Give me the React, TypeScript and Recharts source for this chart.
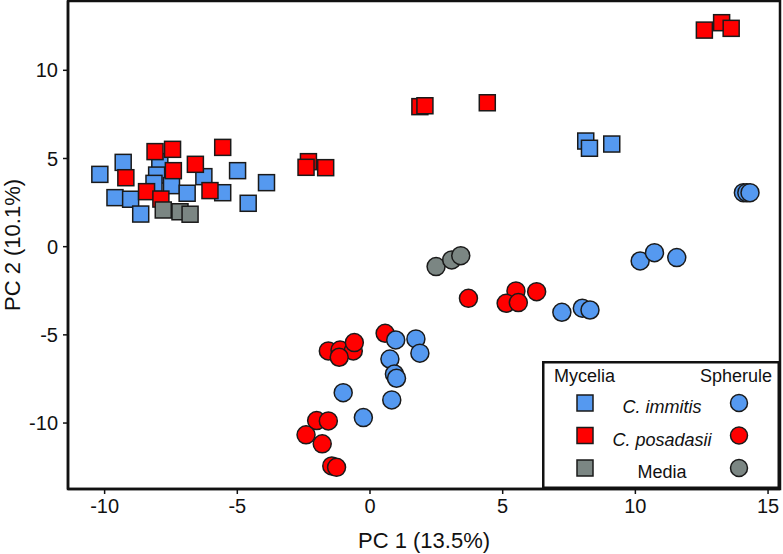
import React from "react";
import { ScatterChart, Scatter, XAxis, YAxis, Legend, ReferenceArea } from "recharts";

// PCA scores: [PC1, PC2]
const myceliaImmitis: [number, number][] = [
  [-10.18, 4.1], [-9.3, 4.78], [-9.61, 2.78], [-9.02, 2.69], [-8.64, 1.85],
  [-7.92, 4.82], [-8.04, 4.06], [-8.14, 3.59], [-7.48, 3.46], [-6.89, 3.03],
  [-6.26, 3.97], [-5.55, 3.06], [-4.99, 4.31], [-4.59, 2.46], [-3.9, 3.63],
  [8.13, 5.99], [8.27, 5.58], [9.11, 5.82],
];
const myceliaPosadasii: [number, number][] = [
  [-8.1, 5.39], [-7.44, 5.52], [-5.55, 5.63], [-9.2, 3.91], [-7.41, 4.31],
  [-6.58, 4.67], [-8.42, 3.12], [-6.03, 3.18], [-7.88, 2.7], [-2.32, 4.82],
  [-2.41, 4.5], [-1.67, 4.48], [1.88, 7.94], [2.07, 7.99], [4.42, 8.16],
  [12.6, 12.28], [13.25, 12.7], [13.61, 12.38],
];
const myceliaMedia: [number, number][] = [
  [-7.79, 2.08], [-7.16, 1.98], [-6.78, 1.84],
];
const spheruleImmitis: [number, number][] = [
  [14.07, 3.06], [14.2, 3.06], [14.32, 3.06], [10.18, -0.81], [10.72, -0.34],
  [11.56, -0.62], [7.23, -3.72], [8.0, -3.49], [8.29, -3.59], [0.97, -5.29],
  [1.73, -5.23], [1.88, -6.04], [0.75, -6.37], [0.92, -7.22], [1.0, -7.46],
  [0.82, -8.69], [-1.01, -8.28], [-0.25, -9.69],
];
const spherulePosadasii: [number, number][] = [
  [-1.57, -5.91], [-1.13, -5.86], [-0.63, -5.91], [-0.59, -5.44], [-1.16, -6.27],
  [0.57, -4.91], [-2.01, -9.86], [-1.57, -9.88], [-2.41, -10.67], [-1.8, -11.18],
  [-1.44, -12.43], [-1.26, -12.51], [3.71, -2.93], [5.5, -2.51], [5.13, -3.21],
  [5.59, -3.17], [6.28, -2.55],
];
const spheruleMedia: [number, number][] = [
  [2.49, -1.13], [3.08, -0.75], [3.42, -0.51],
];

const xTicks = [-10, -5, 0, 5, 10, 15];
const yTicks = [-10, -5, 0, 5, 10];
const xDomain = [-11.38, 15.45];
const yDomain = [-13.74, 13.93];

const BLUE = "#5599f0";
const RED = "#ff0000";
const GRAY = "#7b8683";
const EDGE = "#1a1a1a";
const FONT = '"Liberation Sans", Arial, sans-serif';

const toPoints = (arr: [number, number][]) => arr.map(([x, y]) => ({ x, y }));

const Square = (fill: string) => (props: any) => {
  const { cx, cy } = props;
  return <rect x={cx - 8} y={cy - 8} width={16} height={16} fill={fill} stroke={EDGE} strokeWidth={1.5} />;
};
const Dot = (fill: string) => (props: any) => {
  const { cx, cy } = props;
  return <circle cx={cx} cy={cy} r={9} fill={fill} stroke={EDGE} strokeWidth={1.5} />;
};

const legendRows = [
  { label: "C. immitis", color: BLUE, italic: true },
  { label: "C. posadasii", color: RED, italic: true },
  { label: "Media", color: GRAY, italic: false },
];

function PcaLegend() {
  return (
    <svg width={238} height={128} style={{ display: "block" }}>
      <rect x={1.25} y={1.25} width={235.5} height={125.5} fill="#fff" stroke="#111" strokeWidth={2.5} />
      <text x={12} y={21} fontSize={18} fontFamily={FONT} fill="#111">Mycelia</text>
      <text x={230} y={21} fontSize={18} fontFamily={FONT} fill="#111" textAnchor="end">Spherule</text>
      {legendRows.map((r, i) => {
        const cy = 42 + i * 32.5;
        return (
          <g key={r.label}>
            <rect x={35} y={cy - 8} width={16} height={16} fill={r.color} stroke={EDGE} strokeWidth={1.5} />
            <text x={120} y={cy + 10} fontSize={18} fontFamily={FONT} fill="#111" textAnchor="middle" fontStyle={r.italic ? "italic" : "normal"}>
              {r.label}
            </text>
            <circle cx={197} cy={cy} r={8.5} fill={r.color} stroke={EDGE} strokeWidth={1.5} />
          </g>
        );
      })}
    </svg>
  );
}

export default function App() {
  const axisLine = { stroke: "#111", strokeWidth: 2.5 };
  const tickStyle = { fontSize: 20, fill: "#111", fontFamily: FONT };
  const titleStyle = { fontSize: 22, fill: "#111", fontFamily: FONT };
  return (
    <div style={{ position: "absolute", left: 0, top: 0, background: "#fff" }}>
      <ScatterChart width={783} height={554} margin={{ top: 1, right: 3, bottom: 0, left: 0 }}>
        <XAxis
          type="number"
          dataKey="x"
          domain={xDomain}
          ticks={xTicks}
          allowDataOverflow
          height={65}
          axisLine={axisLine}
          tickLine={{ stroke: "#111", strokeWidth: 1.5 }}
          tickSize={5}
          tickMargin={5}
          tick={tickStyle}
          label={{ value: "PC 1 (13.5%)", position: "insideBottom", offset: 6, style: titleStyle }}
        />
        <YAxis
          type="number"
          dataKey="y"
          domain={yDomain}
          ticks={yTicks}
          allowDataOverflow
          width={68}
          axisLine={axisLine}
          tickLine={{ stroke: "#111", strokeWidth: 1.5 }}
          tickSize={5}
          tickMargin={5}
          tick={tickStyle}
          label={{ value: "PC 2 (10.1%)", angle: -90, position: "insideLeft", offset: 12, style: { ...titleStyle, textAnchor: "middle" } }}
        />
        <ReferenceArea
          x1={xDomain[0]}
          x2={xDomain[1]}
          y1={yDomain[0]}
          y2={yDomain[1]}
          fill="none"
          fillOpacity={0}
          stroke="#111"
          strokeWidth={2.5}
          ifOverflow="visible"
        />
        <Scatter name="Mycelia C. immitis" data={toPoints(myceliaImmitis)} shape={Square(BLUE)} isAnimationActive={false} />
        <Scatter name="Mycelia C. posadasii" data={toPoints(myceliaPosadasii)} shape={Square(RED)} isAnimationActive={false} />
        <Scatter name="Mycelia Media" data={toPoints(myceliaMedia)} shape={Square(GRAY)} isAnimationActive={false} />
        <Scatter name="Spherule C. posadasii" data={toPoints(spherulePosadasii)} shape={Dot(RED)} isAnimationActive={false} />
        <Scatter name="Spherule C. immitis" data={toPoints(spheruleImmitis)} shape={Dot(BLUE)} isAnimationActive={false} />
        <Scatter name="Spherule Media" data={toPoints(spheruleMedia)} shape={Dot(GRAY)} isAnimationActive={false} />
        <Legend
          layout="horizontal"
          verticalAlign="middle"
          align="center"
          content={() => <PcaLegend />}
          wrapperStyle={{ position: "absolute", left: 542, top: 361, width: 238, height: 128 }}
        />
      </ScatterChart>
    </div>
  );
}
